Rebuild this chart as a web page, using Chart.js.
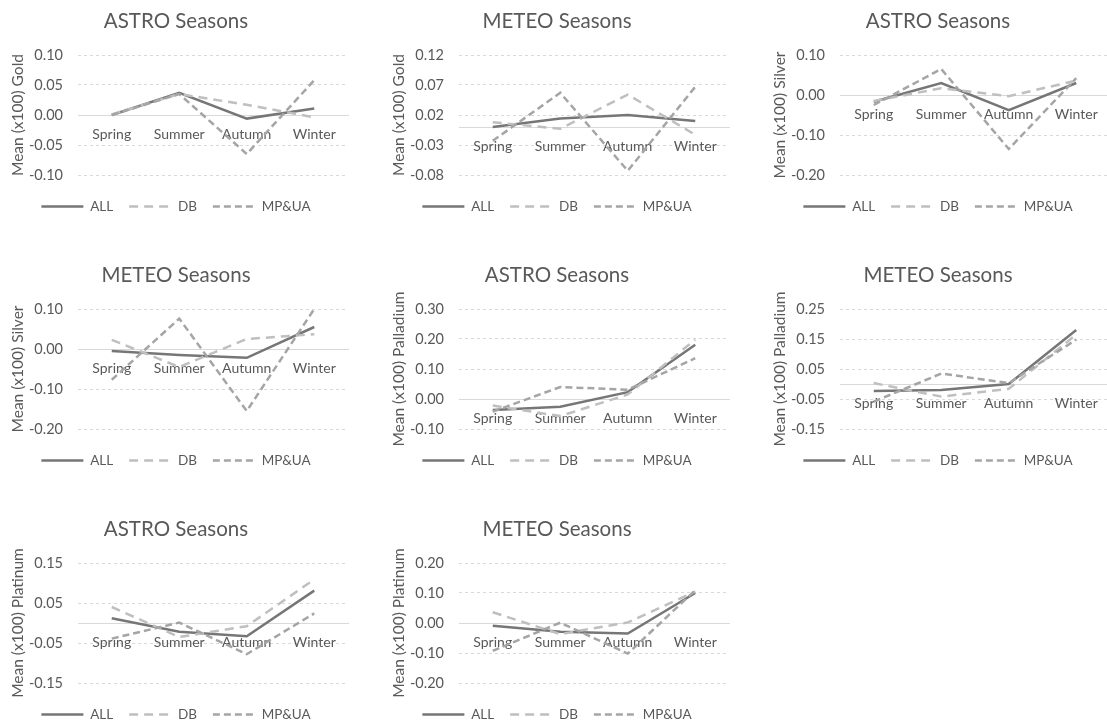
<!DOCTYPE html>
<html>
<head>
<meta charset="utf-8">
<script src="https://cdn.jsdelivr.net/npm/chart.js@4.4.1/dist/chart.umd.min.js"></script>
<style>
  html, body { margin: 0; padding: 0; background: #fff; overflow: hidden; }
  body { width: 1107px; height: 721px; position: relative; }
  .panel { position: absolute; width: 352px; height: 254px; }
</style>
</head>
<body>
<div id="charts"></div>
<script>
// categorias y series
const seasons = ['Spring', 'Summer', 'Autumn', 'Winter'];
const seriesNames = ['ALL', 'DB', 'MP&UA'];

// Gold
const goldAstroAll = [0.000, 0.037, -0.006, 0.011];
const goldAstroDb = [0.001, 0.035, 0.017, -0.004];
const goldAstroMp = [0.000, 0.035, -0.065, 0.058];
const goldMeteoAll = [0.000, 0.014, 0.020, 0.010];
const goldMeteoDb = [0.008, -0.003, 0.054, -0.013];
const goldMeteoMp = [-0.023, 0.057, -0.073, 0.067];

// Silver
const silverAstroAll = [-0.017, 0.030, -0.038, 0.030];
const silverAstroDb = [-0.015, 0.017, -0.003, 0.036];
const silverAstroMp = [-0.025, 0.065, -0.135, 0.042];
const silverMeteoAll = [-0.005, -0.015, -0.022, 0.055];
const silverMeteoDb = [0.023, -0.045, 0.025, 0.037];
const silverMeteoMp = [-0.077, 0.076, -0.155, 0.100];

// Palladium
const palladiumAstroAll = [-0.037, -0.026, 0.023, 0.181];
const palladiumAstroDb = [-0.022, -0.057, 0.015, 0.198];
const palladiumAstroMp = [-0.042, 0.040, 0.031, 0.136];
const palladiumMeteoAll = [-0.023, -0.020, 0.000, 0.180];
const palladiumMeteoDb = [0.003, -0.042, -0.016, 0.165];
const palladiumMeteoMp = [-0.059, 0.035, 0.003, 0.148];

// Platinum
const platinumAstroAll = [0.012, -0.022, -0.033, 0.081];
const platinumAstroDb = [0.040, -0.035, -0.008, 0.109];
const platinumAstroMp = [-0.039, 0.001, -0.078, 0.024];
const platinumMeteoAll = [-0.009, -0.029, -0.035, 0.100];
const platinumMeteoDb = [0.036, -0.037, 0.002, 0.105];
const platinumMeteoMp = [-0.093, 0.001, -0.102, 0.109];

// marcas del eje Y
const ticksGoldAstro = [-0.10, -0.05, 0.00, 0.05, 0.10];
const ticksGoldMeteo = [-0.08, -0.03, 0.02, 0.07, 0.12];
const ticksSilver = [-0.20, -0.10, 0.00, 0.10];
const ticksPalladiumAstro = [-0.10, 0.00, 0.10, 0.20, 0.30];
const ticksPalladiumMeteo = [-0.15, -0.05, 0.05, 0.15, 0.25];
const ticksPlatinumAstro = [-0.15, -0.05, 0.05, 0.15];
const ticksPlatinumMeteo = [-0.20, -0.10, 0.00, 0.10, 0.20];

const titles = ['ASTRO Seasons', 'METEO Seasons', 'ASTRO Seasons', 'METEO Seasons',
                'ASTRO Seasons', 'METEO Seasons', 'ASTRO Seasons', 'METEO Seasons'];
const yTitles = ['Mean (x100) Gold', 'Mean (x100) Gold', 'Mean (x100) Silver', 'Mean (x100) Silver',
                 'Mean (x100) Palladium', 'Mean (x100) Palladium', 'Mean (x100) Platinum', 'Mean (x100) Platinum'];

const panelSeries = [
  [goldAstroAll, goldAstroDb, goldAstroMp],
  [goldMeteoAll, goldMeteoDb, goldMeteoMp],
  [silverAstroAll, silverAstroDb, silverAstroMp],
  [silverMeteoAll, silverMeteoDb, silverMeteoMp],
  [palladiumAstroAll, palladiumAstroDb, palladiumAstroMp],
  [palladiumMeteoAll, palladiumMeteoDb, palladiumMeteoMp],
  [platinumAstroAll, platinumAstroDb, platinumAstroMp],
  [platinumMeteoAll, platinumMeteoDb, platinumMeteoMp]
];
const panelTicks = [ticksGoldAstro, ticksGoldMeteo, ticksSilver, ticksSilver,
                    ticksPalladiumAstro, ticksPalladiumMeteo, ticksPlatinumAstro, ticksPlatinumMeteo];

// estilos de las lineas
const lineColors = ['#767676', '#bfbfbf', '#a5a5a5'];
const lineDashes = [[], [9, 6], [7, 4]];
const textColor = '#595959';
const gridColor = '#d9d9d9';
const FONT = "Lato, 'Open Sans', sans-serif";

// leyenda con el trazo real de cada serie
function legendLabels(chart) {
  return chart.data.datasets.map((ds, i) => ({
    text: ds.label,
    strokeStyle: ds.borderColor,
    fillStyle: ds.borderColor,
    lineWidth: ds.borderWidth,
    lineDash: ds.borderDash,
    lineCap: 'butt',
    pointStyle: 'line',
    fontColor: textColor,
    hidden: false,
    datasetIndex: i
  }));
}

const holder = document.getElementById('charts');

panelSeries.forEach((series, i) => {
  const col = i % 3;
  const row = Math.floor(i / 3);
  const div = document.createElement('div');
  div.className = 'panel';
  div.style.left = (col * 381) + 'px';
  div.style.top = (row * 254) + 'px';
  const canvas = document.createElement('canvas');
  div.appendChild(canvas);
  holder.appendChild(div);

  const ticks = panelTicks[i];

  new Chart(canvas.getContext('2d'), {
    type: 'line',
    data: {
      labels: seasons,
      datasets: series.map((values, k) => ({
        label: seriesNames[k],
        data: values,
        borderColor: lineColors[k],
        backgroundColor: lineColors[k],
        borderDash: lineDashes[k],
        borderWidth: 2.5,
        pointRadius: 0,
        tension: 0,
        order: 3 - k
      }))
    },
    options: {
      responsive: true,
      maintainAspectRatio: false,
      animation: false,
      layout: { padding: { top: 8.7, right: 4, bottom: 30.75, left: 4 } },
      plugins: {
        tooltip: { enabled: false },
        title: {
          display: true,
          text: titles[i],
          color: textColor,
          font: { family: FONT, size: 20.5, weight: 'normal' },
          padding: { top: 0, bottom: 21.7 }
        },
        legend: {
          display: true,
          position: 'bottom',
          title: { display: true, text: '', font: { size: 1 }, padding: { top: 0, bottom: 7.55 } },
          labels: {
            usePointStyle: true,
            pointStyleWidth: 42,
            padding: 16,
            color: textColor,
            font: { family: FONT, size: 13.5 },
            generateLabels: legendLabels
          }
        }
      },
      scales: {
        x: {
          type: 'category',
          offset: true,
          position: { y: 0 },
          grid: { display: false, drawTicks: false },
          border: { display: true, color: gridColor, width: 1 },
          ticks: {
            color: textColor,
            font: { family: FONT, size: 14 },
            padding: 11,
            maxRotation: 0,
            autoSkip: false
          }
        },
        y: {
          min: ticks[0],
          max: ticks[ticks.length - 1],
          afterBuildTicks: axis => { axis.ticks = ticks.map(v => ({ value: v })); },
          afterFit: axis => { axis.width = 74; },
          grid: { color: gridColor, lineWidth: 1, drawTicks: false },
          border: { display: false, dash: [3, 3] },
          ticks: {
            color: textColor,
            font: { family: FONT, size: 14.5 },
            padding: 15,
            callback: v => Number(v).toFixed(2)
          },
          title: {
            display: true,
            text: yTitles[i],
            color: textColor,
            font: { family: FONT, size: 15.5 },
            padding: { top: 4.7, bottom: 0 }
          }
        }
      }
    }
  });
});
</script>
</body>
</html>
